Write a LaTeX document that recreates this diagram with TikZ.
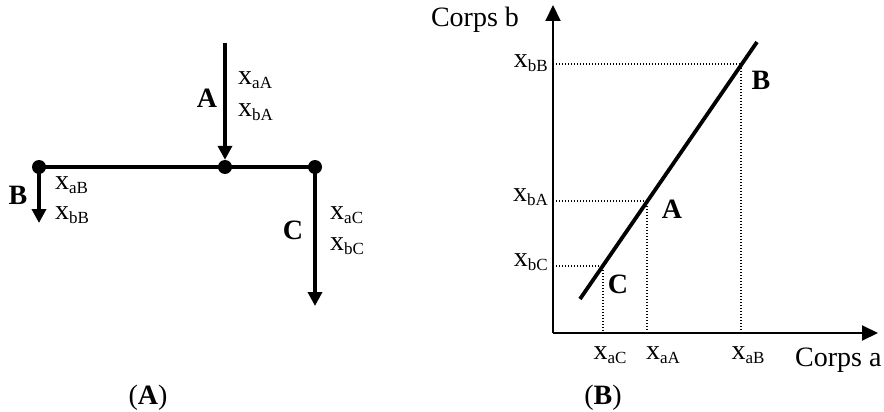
\documentclass[tikz,border=0pt]{standalone}
\usepackage{fontspec}
\setmainfont{Liberation Serif}
\usetikzlibrary{arrows.meta}
\newcommand\xsub[1]{x\raisebox{-0.12em}{\fontsize{17}{18}\selectfont #1}}
\begin{document}
\begin{tikzpicture}[x=1pt,y=-1pt,
  every node/.style={inner sep=0pt,font=\fontsize{28}{32}\selectfont},
  bigline/.style={line width=3.6pt},
  bigarrow/.style={bigline,-{Triangle[length=14pt,width=14pt]}},
  dot/.style={circle,fill=black,minimum size=14pt},
  axis/.style={line width=2pt,-{Triangle[length=16pt,width=15pt]}},
  curve/.style={line width=3.8pt},
  guide/.style={line width=1.1pt,dash pattern=on 1.4pt off 1.6pt},
  lbl/.style={font=\fontsize{28}{32}\selectfont\bfseries}]
\useasboundingbox (0,0) rectangle (884,412);
% ---------- (A) ----------
\node[dot] (L) at (39,167) {};
\node[dot] (J) at (225,167) {};
\node[dot] (R) at (315,167) {};
\coordinate (Atop) at (225,43);
\coordinate (Btip) at (39,223);
\coordinate (Ctip) at (315,306);
\draw[bigline] (L.center) -- (R.center);
\draw[bigarrow] (Atop) -- (J.north);
\draw[bigarrow] (L.center) -- (Btip);
\draw[bigarrow] (R.center) -- (Ctip);
\node[lbl] (lA) at (207,98) {A};
\node[anchor=west] (xaA) at (238,80) {\xsub{aA}};
\node[anchor=west] (xbA) at (238,112) {\xsub{bA}};
\node[lbl] (lB) at (18,195) {B};
\node[anchor=west] (xaB) at (55,185) {\xsub{aB}};
\node[anchor=west] (xbB) at (55,215) {\xsub{bB}};
\node[lbl] (lC) at (293,230) {C};
\node[anchor=west] (xaC) at (330,215) {\xsub{aC}};
\node[anchor=west] (xbC) at (330,246) {\xsub{bC}};
\node (capA) at (148,398) {(\textbf{A})};
% ---------- (B) ----------
\coordinate (O) at (553,333);
\coordinate (Ytip) at (553,5);
\coordinate (Xtip) at (878,333);
\draw[axis] (O) -- (Ytip);
\draw[axis] (O) -- (Xtip);
\coordinate (L0) at (580,299);
\coordinate (L1) at (757,42);
\draw[curve] (L0) -- (L1);
\coordinate (PB) at (741,64);
\coordinate (PA) at (647,201);
\coordinate (PC) at (603,266);
\foreach \p in {PB,PA,PC}{
  \draw[guide] (O |- \p) -- (\p) -- (\p |- O);
}
\node[anchor=east] (ybB) at (548,63) {\xsub{bB}};
\node[anchor=east] (ybA) at (548,197) {\xsub{bA}};
\node[anchor=east] (ybC) at (548,262) {\xsub{bC}};
\node (xaC2) at (610,355) {\xsub{aC}};
\node (xaA2) at (663,355) {\xsub{aA}};
\node (xaB2) at (748,355) {\xsub{aB}};
\node[anchor=west] (ca) at (795,360) {Corps a};
\node (cb) at (475,20) {Corps b};
\node[lbl] (rB) at (761,80) {B};
\node[lbl] (rA) at (672,209) {A};
\node[lbl] (rC) at (618,284) {C};
\node (capB) at (603,398) {(\textbf{B})};
\end{tikzpicture}
\end{document}
